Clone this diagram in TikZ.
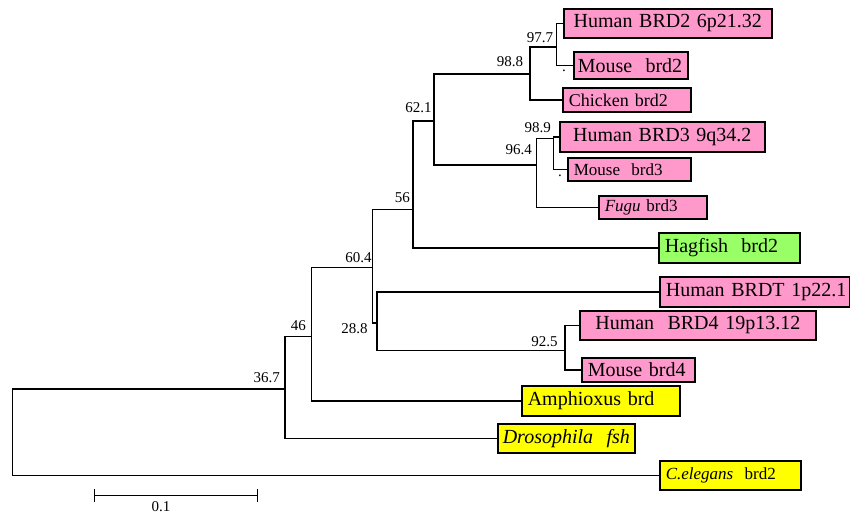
\documentclass[tikz,border=0pt]{standalone}
\usepackage{fontspec}
\setmainfont{Liberation Serif}
\usepackage{xcolor}
\usepackage{tikz}
\usetikzlibrary{positioning,arrows.meta}
\definecolor{brdpink}{HTML}{FF99CC}
\definecolor{brdgreen}{HTML}{99FF66}
\definecolor{brdyellow}{HTML}{FFFF00}
\newcommand{\tsz}[1]{\fontsize{#1}{#1}\selectfont}

\begin{document}
\begin{tikzpicture}[
    x=1pt, y=-1pt,
    leaf/.style={
      draw,
      line width=1.6pt,
      anchor=west,
      inner xsep=6pt,
      inner ysep=0pt,
      align=left,
      font=\tsz{20}
    },
    branch/.style={draw, line width=1.2pt},
    boot/.style={inner sep=0pt, font=\tsz{15}},
]
    \useasboundingbox (0,0) rectangle (850,514);

    % leaves
    \node [leaf, fill=brdpink, text width=196pt, minimum height=29pt, align=center] (hbrd2) at (563,23.5) {\mbox{Human BRD2 6p21.32}};
    \node [leaf, fill=brdpink, text width=106pt, minimum height=27pt, inner xsep=4pt] (mbrd2) at (573,65.5) {\mbox{Mouse\ \ brd2}};
    \node [leaf, fill=brdpink, text width=116pt, minimum height=24pt, font=\tsz{18}] (chk) at (562,100) {\mbox{Chicken brd2}};
    \node [leaf, fill=brdpink, text width=193pt, minimum height=30pt, align=center] (hbrd3) at (559,137) {\mbox{Human BRD3 9q34.2}};
    \node [leaf, fill=brdpink, text width=111pt, minimum height=23pt, font=\tsz{17}] (mbrd3) at (567,169.5) {\mbox{Mouse\ \ brd3}};
    \node [leaf, fill=brdpink, text width=96pt, minimum height=23pt, font=\tsz{17}] (fugu) at (598,207.5) {\mbox{\textit{Fugu} brd3}};
    \node [leaf, fill=brdgreen, text width=129pt, minimum height=30pt] (hag) at (658,248) {\mbox{Hagfish\ \ brd2}};
    \node [leaf, fill=brdpink, text width=178pt, minimum height=30pt] (hbrdt) at (659,292) {\mbox{Human BRDT 1p22.1}};
    \node [leaf, fill=brdpink, text width=224pt, minimum height=29pt, align=center] (hbrd4) at (579,325.5) {\mbox{Human\ \ BRD4 19p13.12}};
    \node [leaf, fill=brdpink, text width=101pt, minimum height=24pt] (mbrd4) at (581,370) {\mbox{Mouse brd4}};
    \node [leaf, fill=brdyellow, text width=146pt, minimum height=30pt] (amph) at (521,401) {\mbox{Amphioxus brd}};
    \node [leaf, fill=brdyellow, text width=127pt, minimum height=29pt, inner xsep=5pt] (dros) at (497,438.5) {\mbox{\textit{Drosophila\ \ fsh}}};
    \node [leaf, fill=brdyellow, text width=129pt, minimum height=29pt, font=\tsz{17}] (cel) at (659,475.5) {\mbox{\textit{C.elegans}\ \ brd2}};

    % inner nodes of the tree
    \coordinate (root) at (12.7,433.3);
    \coordinate (n367) at (285,389);
    \coordinate (n46) at (311.7,336.7);
    \coordinate (n604) at (372.7,267.3);
    \coordinate (n56) at (413,209.3);
    \coordinate (n621) at (434,121);
    \coordinate (n988) at (530,74);
    \coordinate (n977) at (556.7,47);
    \coordinate (n964) at (536.5,165);
    \coordinate (n989) at (553.3,138.3);
    \coordinate (n288) at (377,323);
    \coordinate (n925) at (565,350.7);

    \path [branch] (root) |- (n367);
    \path [branch] (root) |- (cel);
    \path [branch] (n367) |- (n46);
    \path [branch] (n367) |- (dros);
    \path [branch] (n46) |- (n604);
    \path [branch] (n46) |- (amph);
    \path [branch] (n604) |- (n56);
    \path [branch] (n604) |- (n288);
    \path [branch] (n56) |- (n621);
    \path [branch] (n56) |- (hag);
    \path [branch] (n621) |- (n988);
    \path [branch] (n621) |- (n964);
    \path [branch] (n988) |- (n977);
    \path [branch] (n988) |- (chk);
    \path [branch] (n977) |- (hbrd2);
    \path [branch] (n977) |- (mbrd2);
    \path [branch] (n964) |- (n989);
    \path [branch] (n964) |- (fugu);
    \path [branch] (n989) |- (hbrd3);
    \path [branch] (n989) |- (mbrd3);
    \path [branch] (n288) |- (hbrdt);
    \path [branch] (n288) |- (n925);
    \path [branch] (n925) |- (hbrd4);
    \path [branch] (n925) |- (mbrd4);

    % bootstrap values
    \node [boot, above left=4.3pt and 3.4pt of n977] (b977) {97.7};
    \node [boot, above left=7.3pt and 6.7pt of n988] (b988) {98.8};
    \node [boot, above left=8.3pt and 2.3pt of n621] (b621) {62.1};
    \node [boot, above left=5.6pt and 2.3pt of n989] (b989) {98.9};
    \node [boot, above left=10pt and 4.5pt of n964] (b964) {96.4};
    \node [boot, above left=6pt and 3pt of n56] (b56) {56};
    \node [boot, above left=4.6pt and 1pt of n604] (b604) {60.4};
    \node [boot, below left=0.5pt and 9.3pt of n288] (b288) {28.8};
    \node [boot, above left=4pt and 7.3pt of n925] (b925) {92.5};
    \node [boot, above left=5.7pt and 5.7pt of n46] (b46) {46};
    \node [boot, above left=5.7pt and 5pt of n367] (b367) {36.7};
    \node [boot] (dotm2) at (564,71) {.};
    \node [boot] (dotm3) at (560,175.7) {.};

    % scale bar
    \coordinate (sbl) at (94,495.7);
    \coordinate (sbr) at (258,495.7);
    \path [branch, {Bar[width=13pt]}-{Bar[width=13pt]}] (sbl) -- (sbr);
    \node [boot] (sblab) at (161,506.2) {0.1};

\end{tikzpicture}
\end{document}
